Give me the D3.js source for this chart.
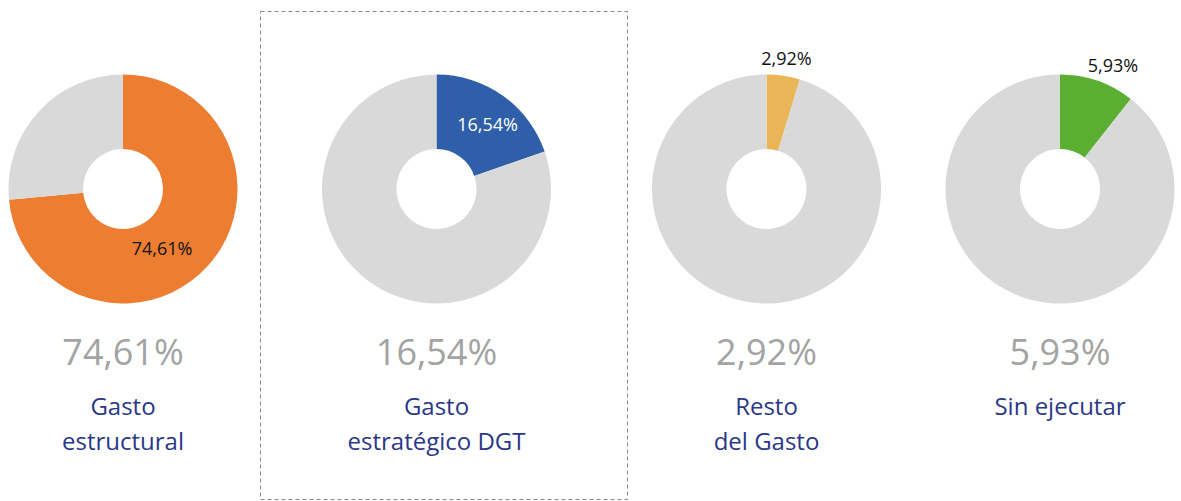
<!DOCTYPE html>
<html>
<head>
<meta charset="utf-8">
<script src="https://cdn.jsdelivr.net/npm/d3@7"></script>
<style>
  html, body { margin: 0; padding: 0; background: #fff; }
  svg { display: block; font-family: "Open Sans", "Noto Sans", sans-serif; }
</style>
</head>
<body>
<svg id="chart" width="1181" height="501"></svg>
<script>
// data
const categories = [["Gasto", "estructural"], ["Gasto", "estratégico DGT"], ["Resto", "del Gasto"], ["Sin ejecutar"]];
const shares = [74.61, 16.54, 2.92, 5.93];
const sliceShares = [73.5, 19.7, 4.7, 10.6];
const sliceColors = ["#ed7d31", "#2e5fa8", "#eab557", "#5aaf33"];
const labelColors = ["#111", "#fff", "#111", "#111"];

// layout
const CENTERS_X = [123, 436.5, 766.5, 1060];
const CENTER_Y = 189;
const OUTER_R = 114.5;
const INNER_R = 40;
// inner value label offsets from each donut centre
const LABEL_OFFSETS = [[39, 61], [51, -63], [20, -129], [53, -122]];
const REST_COLOR = "#d9d9d9";

const svg = d3.select("#chart");

const fmt = v => d3.format(".2f")(v).replace(".", ",") + "%";

// dashed frame around the highlighted chart
svg.append("rect")
  .attr("x", 260.5).attr("y", 11.5)
  .attr("width", 367).attr("height", 488)
  .attr("fill", "none")
  .attr("stroke", "#8a8a8a")
  .attr("stroke-width", 1)
  .attr("stroke-dasharray", "4,3");

const pie = d3.pie().sort(null).value(d => d);
const arc = d3.arc().innerRadius(INNER_R).outerRadius(OUTER_R);

shares.forEach((v, i) => {
  const g = svg.append("g")
    .attr("transform", `translate(${CENTERS_X[i]},${CENTER_Y})`);

  g.selectAll("path")
    .data(pie([sliceShares[i], 100 - sliceShares[i]]))
    .join("path")
    .attr("d", arc)
    .attr("fill", (d, j) => j === 0 ? sliceColors[i] : REST_COLOR);

  g.append("text")
    .attr("x", LABEL_OFFSETS[i][0])
    .attr("y", LABEL_OFFSETS[i][1])
    .attr("text-anchor", "middle")
    .attr("dominant-baseline", "middle")
    .attr("font-size", 18)
    .attr("fill", labelColors[i])
    .text(fmt(v));

  // big grey value under the donut
  g.append("text")
    .attr("y", 176)
    .attr("text-anchor", "middle")
    .attr("font-size", 36)
    .attr("fill", "#a3a3a3")
    .text(fmt(v));

  const t = g.append("text")
    .attr("text-anchor", "middle")
    .attr("font-size", 24)
    .attr("fill", "#2b3787");
  categories[i].forEach((line, k) => {
    t.append("tspan")
      .attr("x", 0)
      .attr("y", 226 + k * 35)
      .text(line);
  });
});
</script>
</body>
</html>
